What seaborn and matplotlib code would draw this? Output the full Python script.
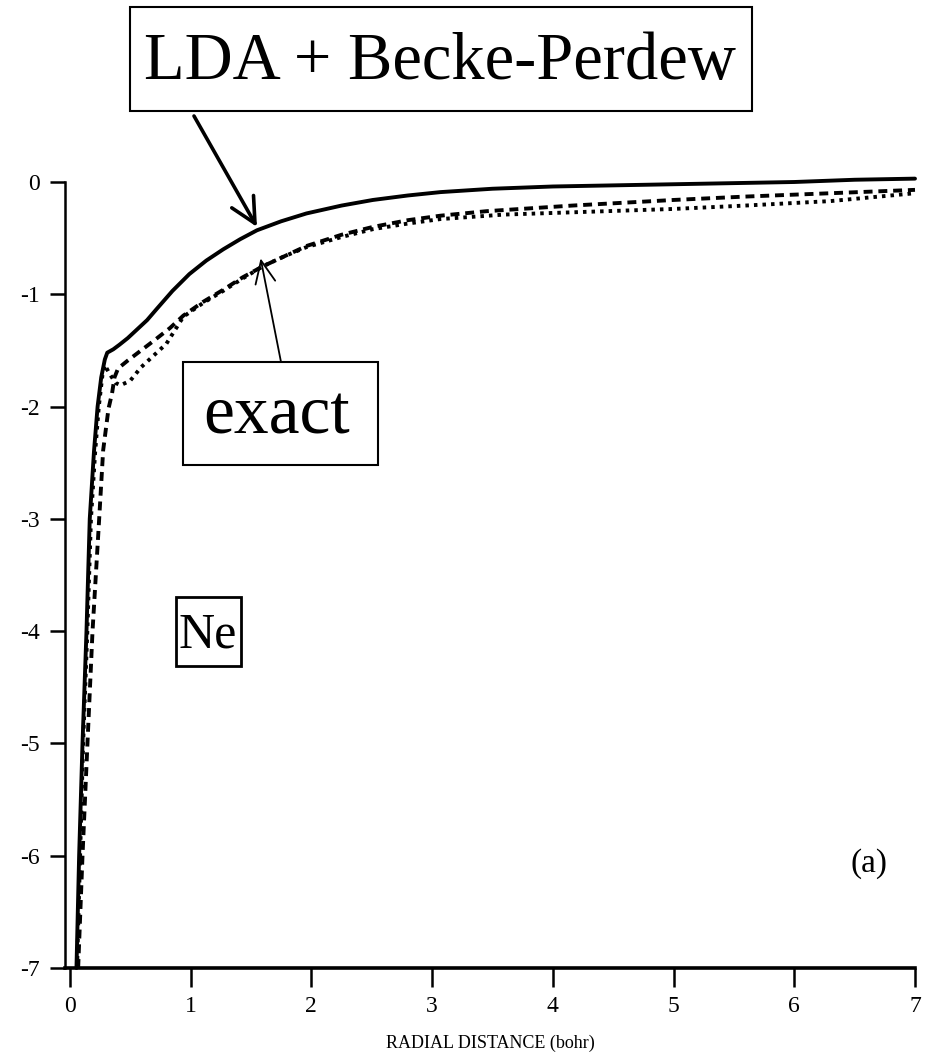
import numpy as np
import pandas as pd
import matplotlib
matplotlib.use("Agg")
import matplotlib.pyplot as plt
import seaborn as sns
from matplotlib.patches import Rectangle

# ---- data ----
solid_r = [0.055, 0.077, 0.105, 0.138, 0.165, 0.20, 0.23, 0.26, 0.29, 0.31, 0.36, 0.41, 0.48,
           0.55, 0.64, 0.72, 0.85, 0.99, 1.13, 1.27, 1.41, 1.55, 1.75, 1.96, 2.25, 2.51, 2.8,
           3.07, 3.5, 4.0, 4.5, 5.0, 5.5, 6.0, 6.5, 7.0]
solid_v = [-7.0, -6.0, -5.0, -4.0, -3.0, -2.4, -2.0, -1.74, -1.58, -1.52, -1.49, -1.45, -1.39,
           -1.32, -1.23, -1.13, -0.97, -0.82, -0.70, -0.60, -0.51, -0.43, -0.35, -0.28, -0.21,
           -0.16, -0.12, -0.09, -0.06, -0.04, -0.03, -0.02, -0.01, 0.0, 0.02, 0.03]

dashed_r = [0.069, 0.105, 0.146, 0.188, 0.243, 0.276, 0.32, 0.35, 0.37, 0.40, 0.48, 0.59, 0.70,
            0.83, 0.94, 1.1, 1.27, 1.43, 1.60, 1.78, 1.96, 2.25, 2.51, 2.8, 3.07, 3.45, 4.16,
            5.0, 5.59, 6.3, 7.0]
dashed_v = [-7.0, -6.0, -5.0, -4.0, -3.0, -2.39, -2.02, -1.88, -1.74, -1.66, -1.59, -1.50, -1.41,
            -1.30, -1.19, -1.07, -0.96, -0.85, -0.75, -0.66, -0.57, -0.47, -0.40, -0.34, -0.30,
            -0.26, -0.21, -0.16, -0.13, -0.10, -0.07]

dotted_r = [0.06, 0.085, 0.11, 0.145, 0.175, 0.21, 0.24, 0.27, 0.29, 0.33, 0.38, 0.42, 0.50,
            0.59, 0.70, 0.80, 0.94, 1.1, 1.27, 1.43, 1.60, 1.78, 1.96, 2.25, 2.51, 2.8, 3.07,
            3.6, 4.16, 5.0, 5.59, 6.3, 7.0]
dotted_v = [-7.0, -6.0, -5.0, -4.0, -3.0, -2.4, -2.0, -1.72, -1.63, -1.71, -1.79, -1.81, -1.77,
            -1.65, -1.54, -1.44, -1.20, -1.08, -0.97, -0.86, -0.75, -0.66, -0.58, -0.49, -0.42,
            -0.37, -0.33, -0.29, -0.27, -0.24, -0.21, -0.17, -0.10]

x_ticks = [0, 1, 2, 3, 4, 5, 6, 7]
y_ticks = [0, -1, -2, -3, -4, -5, -6, -7]
x_label = "RADIAL DISTANCE (bohr)"
label_lda = "LDA + Becke-Perdew"
label_exact = "exact"
label_atom = "Ne"
label_panel = "(a)"

# ---- figure ----
sns.set_style("ticks")
plt.rcParams['font.family'] = ['Liberation Serif', 'DejaVu Serif']
plt.rcParams['axes.unicode_minus'] = False
plt.rcParams['text.color'] = 'black'
plt.rcParams['axes.labelcolor'] = 'black'
plt.rcParams['axes.edgecolor'] = 'black'
plt.rcParams['xtick.color'] = 'black'
plt.rcParams['ytick.color'] = 'black'

W, H = 934, 1063
fig = plt.figure(figsize=(W / 100, H / 100), dpi=100)
ax = fig.add_axes([65 / W, 1 - 968 / H, (915 - 65) / W, (968 - 182) / H])

df = pd.concat([
    pd.DataFrame({"r": solid_r, "v": solid_v, "curve": "solid"}),
    pd.DataFrame({"r": dashed_r, "v": dashed_v, "curve": "dashed"}),
    pd.DataFrame({"r": dotted_r, "v": dotted_v, "curve": "dotted"}),
], ignore_index=True)

sns.lineplot(data=df, x="r", y="v", style="curve",
             style_order=["solid", "dashed", "dotted"],
             dashes={"solid": "", "dashed": (2.3, 1.5), "dotted": (0.9, 1.3)},
             color="black", sort=False, estimator=None, linewidth=2.8,
             legend=False, ax=ax)
for ln in ax.lines:
    ln.set_clip_on(False)
    ln.set_solid_joinstyle("round")

ax.set_xlim(-0.04, 7.0)
ax.set_ylim(-7.0, 0.0)
ax.set_xticks(x_ticks)
ax.set_yticks(y_ticks)
ax.set_xticklabels([str(t) for t in x_ticks])
ax.set_yticklabels([str(t) for t in y_ticks])
ax.set_xlabel(x_label, fontsize=13, labelpad=13)
ax.set_ylabel("")

for s in ["top", "right"]:
    ax.spines[s].set_visible(False)
ax.spines["left"].set_linewidth(1.8)
ax.spines["bottom"].set_linewidth(2.6)
ax.tick_params(axis="x", direction="out", length=14, width=1.8, pad=6, labelsize=17)
ax.tick_params(axis="y", direction="out", length=11, width=1.8, pad=7, labelsize=17)

# ---- annotations ----
def px_box(l, t, r, b, lw=1.5):
    fig.add_artist(Rectangle((l / W, 1 - b / H), (r - l) / W, (b - t) / H,
                             transform=fig.transFigure, fill=False, lw=lw, ec="black"))

def px_text(cx, base, s, size):
    fig.text(cx / W, 1 - base / H, s, ha="center", va="baseline", fontsize=size,
             color="black")

px_box(130, 7, 752, 111, lw=1.5)
px_text(440, 79, label_lda, 48)

px_box(183, 362, 378, 465, lw=1.5)
px_text(277, 433, label_exact, 50)

px_box(176, 597, 241, 666, lw=2.0)
px_text(208, 647, label_atom, 36)

ax.text(6.62, -6.07, label_panel, ha="center", va="center", fontsize=24)

# arrows (tail in figure pixels, tip on the curve)
ax.annotate("", xy=(1.55, -0.40), xycoords="data",
            xytext=(194 / W, 1 - 116 / H), textcoords="figure fraction",
            arrowprops=dict(arrowstyle="->,head_length=0.9,head_width=0.45",
                            lw=2.6, color="black", shrinkA=0, shrinkB=0,
                            mutation_scale=20))
ax.annotate("", xy=(1.58, -0.68), xycoords="data",
            xytext=(281 / W, 1 - 362 / H), textcoords="figure fraction",
            arrowprops=dict(arrowstyle="->,head_length=0.9,head_width=0.4",
                            lw=1.3, color="black", shrinkA=0, shrinkB=0,
                            mutation_scale=18))

fig.savefig("out.png", dpi=100)
